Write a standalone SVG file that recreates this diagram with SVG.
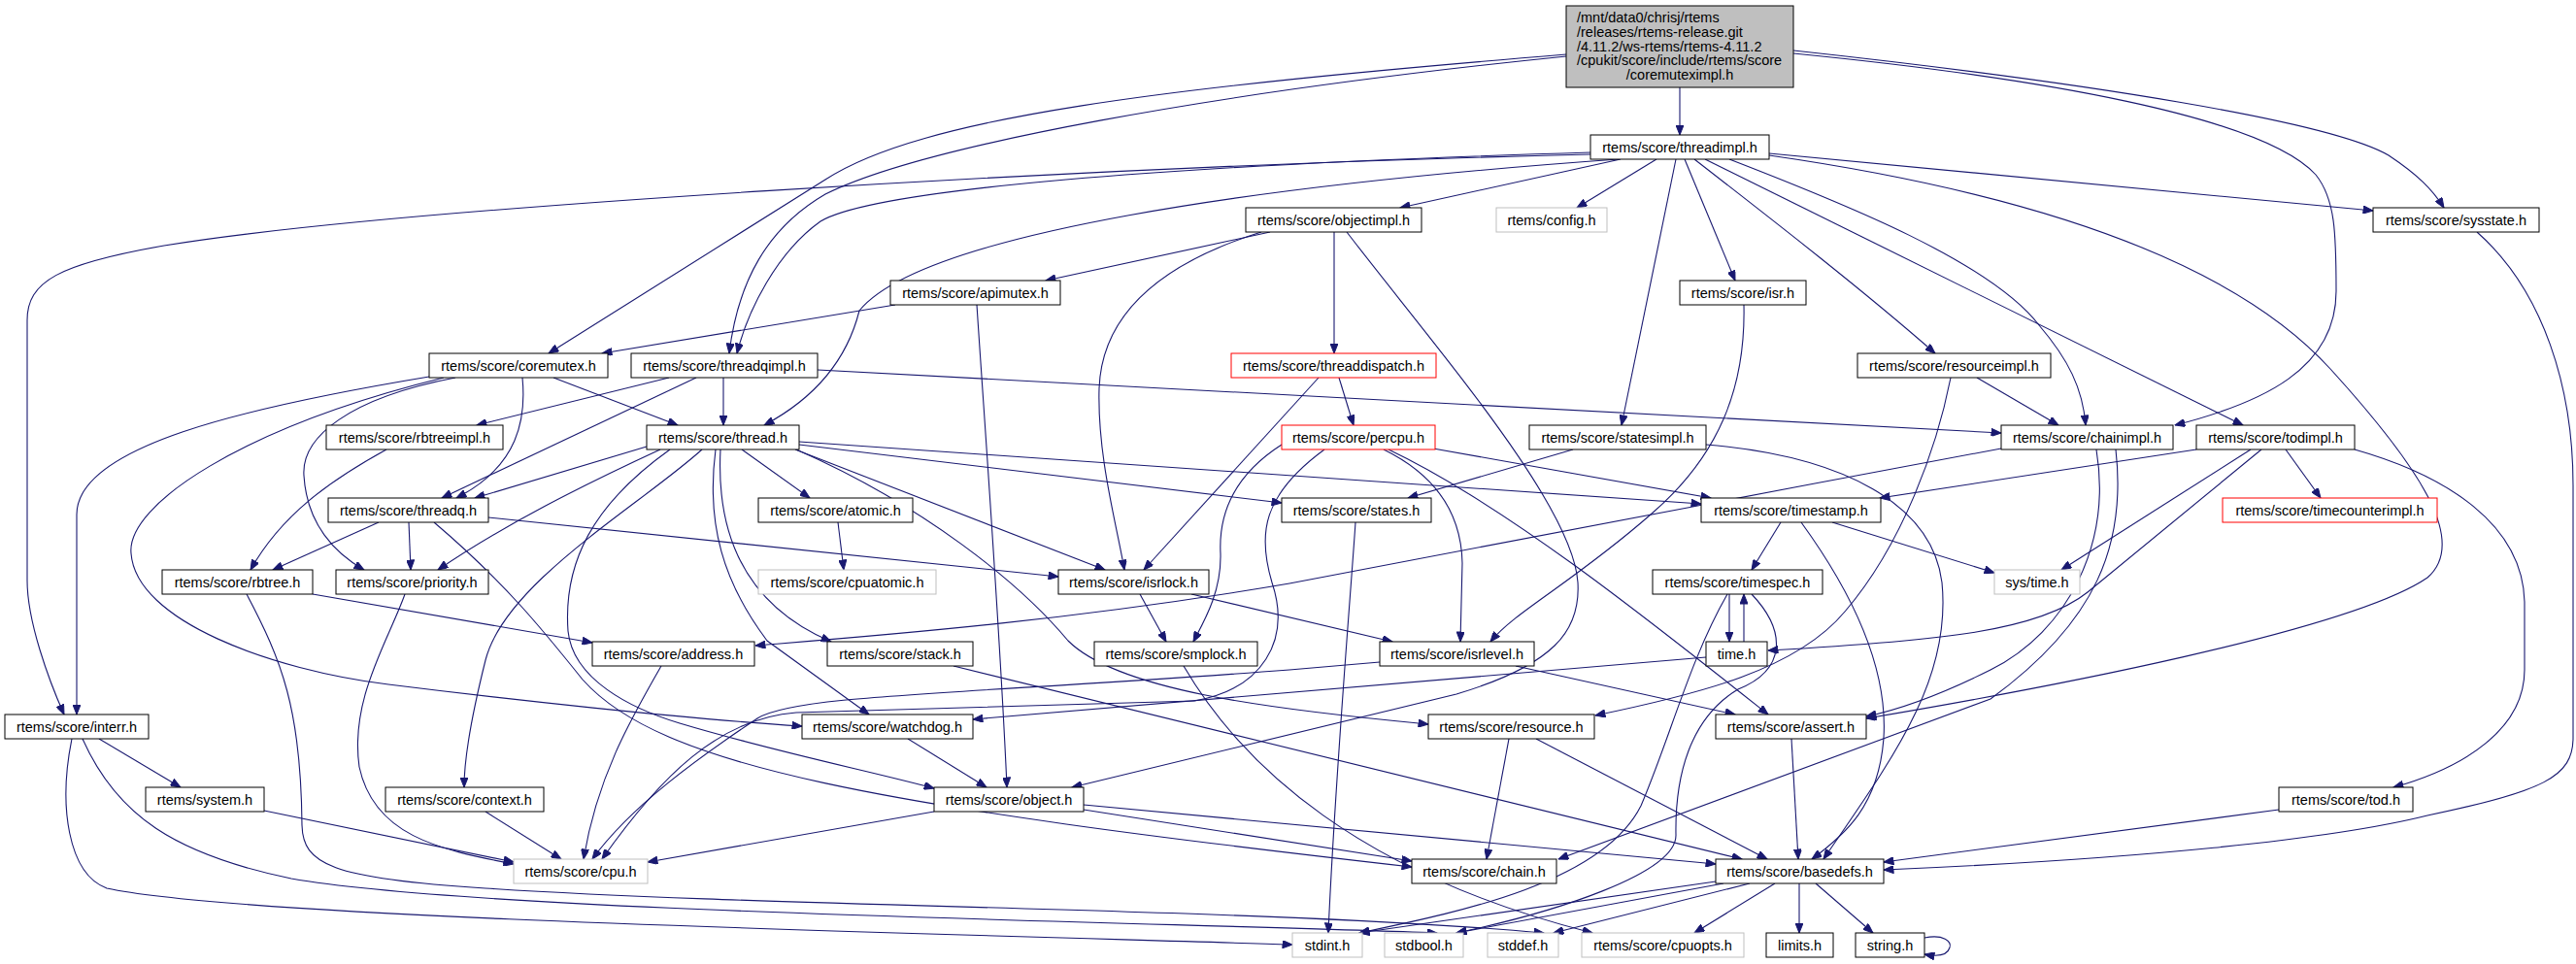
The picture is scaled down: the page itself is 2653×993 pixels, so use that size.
<svg xmlns="http://www.w3.org/2000/svg" width="2653" height="993" viewBox="0 0 2653 993">
<style>
rect{fill:#fff;stroke:#000;stroke-width:1}
.g rect{stroke:#bfbfbf}
.r rect{stroke:#ff0000}
text{font-family:"Liberation Sans",Arial,sans-serif;font-size:14.5px;fill:#000;text-anchor:middle}
.e path{fill:none;stroke:#191970;stroke-width:1.1;marker-end:url(#a)}
</style>
<defs>
<marker id="a" viewBox="0 0 10 8" refX="10" refY="4" markerWidth="11" markerHeight="8" markerUnits="userSpaceOnUse" orient="auto"><path d="M0,0 L10,4 L0,8 z" fill="#191970" stroke="#191970" stroke-width="1"/></marker>
</defs>
<rect x="0" y="0" width="2653" height="993" style="fill:#fff;stroke:none"/>
<g class="e" id="edges">
<path d="M1730,90 L1730,139"/>
<path d="M1613,56 C1200,90 950,120 850,185 L565,364"/>
<path d="M1613,58 C1250,95 950,150 850,200 C790,235 760,290 751,364"/>
<path d="M1847,55 C2100,80 2330,120 2385,180 C2405,205 2406,240 2406,300 C2406,380 2330,415 2240,438"/>
<path d="M1847,52 C2150,85 2400,125 2460,160 C2490,180 2505,195 2517,214"/>
<path d="M1667,164 C1300,190 950,240 885,320 C870,380 830,415 787,438"/>
<path d="M1822,160 C2100,200 2300,270 2400,380 C2500,490 2540,560 2500,595 C2420,650 2100,710 1922,740"/>
<path d="M1781,164 C1900,210 2050,270 2100,335 C2130,370 2145,400 2148,438"/>
<path d="M1638,159 C1100,172 400,215 169,253 C60,272 28,290 28,330 L28,598 C28,640 50,700 66,736"/>
<path d="M1735,164 L1787,289"/>
<path d="M1669,164 L1442,214"/>
<path d="M1745,164 C1830,230 1920,300 1993,364"/>
<path d="M1726,164 L1670,438"/>
<path d="M1822,158 L2444,217"/>
<path d="M1638,157 C1200,170 900,195 845,228 C800,260 770,320 759,364"/>
<path d="M1756,164 L2310,438"/>
<path d="M1706,164 L1624,214"/>
<path d="M1387,239 C1480,360 1620,520 1625,600 C1628,650 1600,685 1500,715 L1104,811"/>
<path d="M1308,239 L1077,289"/>
<path d="M1299,239 C1200,270 1135,320 1132,400 C1130,470 1150,540 1158,587"/>
<path d="M1374,239 L1374,364"/>
<path d="M922,314 L620,364"/>
<path d="M1006,314 C1015,450 1030,650 1037,811"/>
<path d="M570,389 L698,438"/>
<path d="M538,389 C542,430 535,480 470,513"/>
<path d="M469,389 C360,410 310,450 313,490 C316,540 345,570 375,587"/>
<path d="M457,389 C250,440 130,520 135,570 C140,640 280,690 400,705 C520,720 700,740 826,748"/>
<path d="M442,388 C250,420 79,460 79,530 L79,736"/>
<path d="M717,389 L455,513"/>
<path d="M745,389 L745,438"/>
<path d="M689,389 L491,438"/>
<path d="M842,381 C1300,405 1700,425 2061,446"/>
<path d="M1379,389 L1394,438"/>
<path d="M1358,389 L1178,587"/>
<path d="M1476,462 L1762,513"/>
<path d="M1320,458 C1270,490 1255,530 1257,570 C1258,610 1240,640 1229,661"/>
<path d="M1425,463 C1480,490 1505,530 1506,580 L1504,661"/>
<path d="M1430,463 C1550,520 1700,640 1821,736"/>
<path d="M1364,463 C1300,510 1295,550 1310,600 C1330,660 1300,710 1230,722 L820,734 C740,740 680,800 620,885"/>
<path d="M1796,314 C1798,400 1770,470 1700,530 C1620,600 1560,630 1535,661"/>
<path d="M2036,389 L2120,438"/>
<path d="M2009,389 C1995,460 1960,560 1900,630 C1850,690 1750,715 1643,737"/>
<path d="M1620,463 L1450,513"/>
<path d="M1757,458 C1900,470 1990,520 2000,600 C2010,700 1950,780 1878,885"/>
<path d="M2061,462 C1800,510 1500,570 1328,601 C1100,640 900,655 778,665"/>
<path d="M2179,463 C2190,560 2160,640 2050,720 L1605,885"/>
<path d="M2159,463 C2175,560 2130,650 2050,690 C2000,715 1960,730 1922,738"/>
<path d="M2262,463 L1936,513"/>
<path d="M2354,463 L2390,513"/>
<path d="M2318,463 L2123,587"/>
<path d="M2329,463 L2150,610 C2100,650 2000,660 1821,670"/>
<path d="M2425,463 C2520,490 2598,540 2600,620 L2600,690 C2600,750 2540,790 2465,811"/>
<path d="M2551,239 C2620,300 2650,400 2650,500 L2650,760 C2650,800 2620,815 2500,840 C2400,865 2200,885 1940,896"/>
<path d="M398,463 C340,495 290,530 258,587"/>
<path d="M666,460 L489,513"/>
<path d="M680,463 C600,500 520,540 451,587"/>
<path d="M764,463 L834,513"/>
<path d="M819,463 L1138,587"/>
<path d="M823,458 L1320,518"/>
<path d="M823,455 L1752,519"/>
<path d="M742,463 C738,540 760,620 856,661"/>
<path d="M737,463 C727,540 745,600 790,660 L895,736"/>
<path d="M690,463 C610,520 580,580 585,650 C590,700 650,730 700,745 C800,775 900,795 962,812"/>
<path d="M820,463 C950,520 1050,600 1100,660 C1150,710 1300,730 1471,746"/>
<path d="M723,463 C660,520 520,600 500,680 C485,740 478,780 478,811"/>
<path d="M390,538 L281,587"/>
<path d="M421,538 L423,587"/>
<path d="M503,533 L1090,594"/>
<path d="M447,538 C520,600 560,650 600,700 C680,790 900,830 1454,893"/>
<path d="M863,538 L869,587"/>
<path d="M322,612 L610,662"/>
<path d="M254,612 C290,680 310,730 311,850 C312,890 340,905 500,915 C800,935 1300,935 1590,961"/>
<path d="M417,612 C400,660 360,720 370,790 C385,860 450,875 529,890"/>
<path d="M1227,612 L1434,661"/>
<path d="M1174,612 L1201,661"/>
<path d="M1834,538 L1804,587"/>
<path d="M1855,538 C1900,600 1945,680 1940,760 C1935,830 1900,860 1866,885"/>
<path d="M1887,538 L2054,590"/>
<path d="M1781,612 L1781,661"/>
<path d="M1796,661 L1796,612"/>
<path d="M1779,612 C1740,680 1720,760 1690,830 C1650,910 1500,940 1400,961"/>
<path d="M1804,612 C1840,650 1840,690 1790,710 C1740,740 1725,800 1726,860 C1727,900 1600,940 1500,961"/>
<path d="M1757,677 L1002,741"/>
<path d="M681,686 C650,740 615,800 601,885"/>
<path d="M982,686 L1794,885"/>
<path d="M1219,686 C1280,790 1400,900 1640,961"/>
<path d="M1561,686 L1787,736"/>
<path d="M1421,682 L1328,690 C1000,715 820,715 780,740 C720,780 650,830 610,885"/>
<path d="M935,761 L1016,811"/>
<path d="M962,836 L667,888"/>
<path d="M1116,834 L1454,887"/>
<path d="M1116,829 L1767,890"/>
<path d="M1554,761 L1531,885"/>
<path d="M1582,761 L1820,885"/>
<path d="M1845,761 L1852,885"/>
<path d="M1767,908 L1400,961"/>
<path d="M1775,910 L1500,961"/>
<path d="M1802,910 L1600,961"/>
<path d="M1828,910 L1745,961"/>
<path d="M1853,910 L1853,961"/>
<path d="M1870,910 L1929,961"/>
<path d="M1982,966 C2002,962 2010,970 2008,976 C2006,983 1998,986 1982,983"/>
<path d="M2347,834 L1940,888"/>
<path d="M102,761 L186,811"/>
<path d="M74,761 C60,830 70,900 110,915 C250,945 900,960 1331,973"/>
<path d="M85,761 C120,840 180,880 300,905 C500,940 1200,950 1480,961"/>
<path d="M272,835 L529,888"/>
<path d="M500,836 L578,885"/>
<path d="M1396,538 C1392,600 1375,800 1368,961"/>
</g>
<g id="main"><rect x="1613" y="6" width="234" height="84" style="fill:#bfbfbf"/>
<text x="1624" y="23" style="text-anchor:start">/mnt/data0/chrisj/rtems</text>
<text x="1624" y="38" style="text-anchor:start">/releases/rtems-release.git</text>
<text x="1624" y="52.5" style="text-anchor:start">/4.11.2/ws-rtems/rtems-4.11.2</text>
<text x="1624" y="67" style="text-anchor:start">/cpukit/score/include/rtems/score</text>
<text x="1730" y="82">/coremuteximpl.h</text></g>
<g id="threadimpl"><rect x="1638" y="139" width="184" height="25"/><text x="1730" y="156.5">rtems/score/threadimpl.h</text></g>
<g id="objectimpl"><rect x="1283" y="214" width="181" height="25"/><text x="1373.5" y="231.5">rtems/score/objectimpl.h</text></g>
<g id="config" class="g"><rect x="1541" y="214" width="114" height="25"/><text x="1598" y="231.5">rtems/config.h</text></g>
<g id="sysstate"><rect x="2444" y="214" width="171" height="25"/><text x="2529.5" y="231.5">rtems/score/sysstate.h</text></g>
<g id="apimutex"><rect x="917" y="289" width="175" height="25"/><text x="1004.5" y="306.5">rtems/score/apimutex.h</text></g>
<g id="isr"><rect x="1730" y="289" width="130" height="25"/><text x="1795" y="306.5">rtems/score/isr.h</text></g>
<g id="coremutex"><rect x="442" y="364" width="184" height="25"/><text x="534" y="381.5">rtems/score/coremutex.h</text></g>
<g id="threadqimpl"><rect x="650" y="364" width="192" height="25"/><text x="746" y="381.5">rtems/score/threadqimpl.h</text></g>
<g id="threaddispatch" class="r"><rect x="1268" y="364" width="211" height="25"/><text x="1373.5" y="381.5">rtems/score/threaddispatch.h</text></g>
<g id="resourceimpl"><rect x="1913" y="364" width="199" height="25"/><text x="2012.5" y="381.5">rtems/score/resourceimpl.h</text></g>
<g id="rbtreeimpl"><rect x="336" y="438" width="182" height="25"/><text x="427" y="455.5">rtems/score/rbtreeimpl.h</text></g>
<g id="thread"><rect x="666" y="438" width="157" height="25"/><text x="744.5" y="455.5">rtems/score/thread.h</text></g>
<g id="percpu" class="r"><rect x="1320" y="438" width="158" height="25"/><text x="1399" y="455.5">rtems/score/percpu.h</text></g>
<g id="statesimpl"><rect x="1575" y="438" width="182" height="25"/><text x="1666" y="455.5">rtems/score/statesimpl.h</text></g>
<g id="chainimpl"><rect x="2061" y="438" width="177" height="25"/><text x="2149.5" y="455.5">rtems/score/chainimpl.h</text></g>
<g id="todimpl"><rect x="2262" y="438" width="163" height="25"/><text x="2343.5" y="455.5">rtems/score/todimpl.h</text></g>
<g id="threadq"><rect x="338" y="513" width="165" height="25"/><text x="420.5" y="530.5">rtems/score/threadq.h</text></g>
<g id="atomic"><rect x="781" y="513" width="159" height="25"/><text x="860.5" y="530.5">rtems/score/atomic.h</text></g>
<g id="states"><rect x="1320" y="513" width="154" height="25"/><text x="1397" y="530.5">rtems/score/states.h</text></g>
<g id="timestamp"><rect x="1752" y="513" width="185" height="25"/><text x="1844.5" y="530.5">rtems/score/timestamp.h</text></g>
<g id="timecounterimpl" class="r"><rect x="2289" y="513" width="221" height="25"/><text x="2399.5" y="530.5">rtems/score/timecounterimpl.h</text></g>
<g id="rbtree"><rect x="167" y="587" width="155" height="25"/><text x="244.5" y="604.5">rtems/score/rbtree.h</text></g>
<g id="priority"><rect x="346" y="587" width="157" height="25"/><text x="424.5" y="604.5">rtems/score/priority.h</text></g>
<g id="cpuatomic" class="g"><rect x="781" y="587" width="183" height="25"/><text x="872.5" y="604.5">rtems/score/cpuatomic.h</text></g>
<g id="isrlock"><rect x="1090" y="587" width="155" height="25"/><text x="1167.5" y="604.5">rtems/score/isrlock.h</text></g>
<g id="timespec"><rect x="1702" y="587" width="175" height="25"/><text x="1789.5" y="604.5">rtems/score/timespec.h</text></g>
<g id="systime" class="g"><rect x="2054" y="587" width="88" height="25"/><text x="2098" y="604.5">sys/time.h</text></g>
<g id="address"><rect x="610" y="661" width="167" height="25"/><text x="693.5" y="678.5">rtems/score/address.h</text></g>
<g id="stack"><rect x="852" y="661" width="150" height="25"/><text x="927" y="678.5">rtems/score/stack.h</text></g>
<g id="smplock"><rect x="1127" y="661" width="168" height="25"/><text x="1211" y="678.5">rtems/score/smplock.h</text></g>
<g id="isrlevel"><rect x="1421" y="661" width="159" height="25"/><text x="1500.5" y="678.5">rtems/score/isrlevel.h</text></g>
<g id="time"><rect x="1757" y="661" width="63" height="25"/><text x="1788.5" y="678.5">time.h</text></g>
<g id="interr"><rect x="5" y="736" width="148" height="25"/><text x="79" y="753.5">rtems/score/interr.h</text></g>
<g id="watchdog"><rect x="826" y="736" width="176" height="25"/><text x="914" y="753.5">rtems/score/watchdog.h</text></g>
<g id="resource"><rect x="1471" y="736" width="171" height="25"/><text x="1556.5" y="753.5">rtems/score/resource.h</text></g>
<g id="assert"><rect x="1767" y="736" width="155" height="25"/><text x="1844.5" y="753.5">rtems/score/assert.h</text></g>
<g id="system"><rect x="150" y="811" width="122" height="25"/><text x="211" y="828.5">rtems/system.h</text></g>
<g id="context"><rect x="397" y="811" width="163" height="25"/><text x="478.5" y="828.5">rtems/score/context.h</text></g>
<g id="object"><rect x="962" y="811" width="154" height="25"/><text x="1039" y="828.5">rtems/score/object.h</text></g>
<g id="tod"><rect x="2347" y="811" width="138" height="25"/><text x="2416" y="828.5">rtems/score/tod.h</text></g>
<g id="cpu" class="g"><rect x="529" y="885" width="138" height="25"/><text x="598" y="902.5">rtems/score/cpu.h</text></g>
<g id="chain"><rect x="1454" y="885" width="149" height="25"/><text x="1528.5" y="902.5">rtems/score/chain.h</text></g>
<g id="basedefs"><rect x="1767" y="885" width="173" height="25"/><text x="1853.5" y="902.5">rtems/score/basedefs.h</text></g>
<g id="stdint" class="g"><rect x="1331" y="961" width="72" height="25"/><text x="1367" y="978.5">stdint.h</text></g>
<g id="stdbool" class="g"><rect x="1426" y="961" width="81" height="25"/><text x="1466.5" y="978.5">stdbool.h</text></g>
<g id="stddef" class="g"><rect x="1532" y="961" width="73" height="25"/><text x="1568.5" y="978.5">stddef.h</text></g>
<g id="cpuopts" class="g"><rect x="1629" y="961" width="167" height="25"/><text x="1712.5" y="978.5">rtems/score/cpuopts.h</text></g>
<g id="limits"><rect x="1819" y="961" width="69" height="25"/><text x="1853.5" y="978.5">limits.h</text></g>
<g id="string"><rect x="1911" y="961" width="71" height="25"/><text x="1946.5" y="978.5">string.h</text></g>
</svg>
